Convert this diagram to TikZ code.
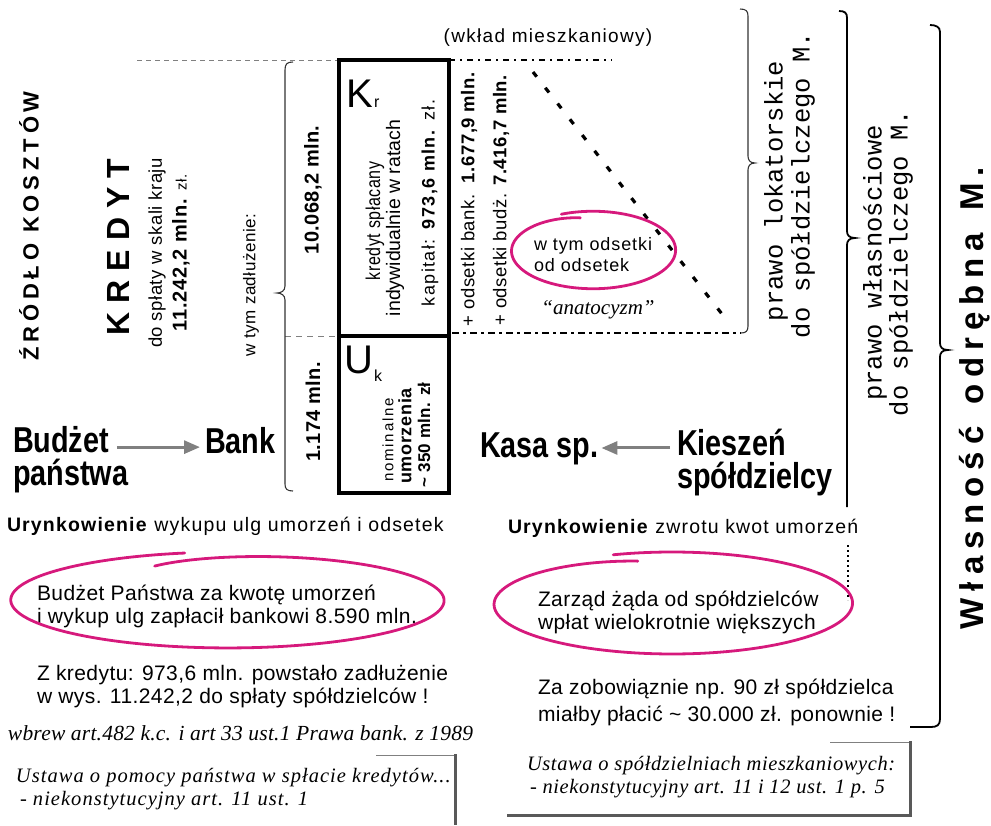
\documentclass[tikz,border=0pt]{standalone}
\usepackage{fontspec}
\setmainfont{Liberation Sans}
\newfontfamily\narrowsans[FakeStretch=0.8]{Liberation Sans}
\newfontfamily\monofam{Liberation Mono}
\newfontfamily\seriffam{Liberation Serif}
\usetikzlibrary{arrows.meta}
\definecolor{mag}{RGB}{214,25,124}
\definecolor{arrowgrey}{RGB}{128,128,128}
\newcommand{\fsz}[1]{\fontsize{#1}{#1}\selectfont}
\newcommand{\ls}[1]{\addfontfeature{LetterSpace=#1}}
\newcommand{\handloop}[8]{\draw[magline] plot[variable=\t,domain=0:#6,samples=180,smooth] ({#1+#3*(1.02-(1.02-#8)*(\t/#6)^10)*cos((#5)+(#7)*\t)},{#2-#4*(1.02-(1.02-#8)*(\t/#6)^10)*sin((#5)+(#7)*\t)});}
\begin{document}
\begin{tikzpicture}[x=1pt,y=-1pt,
  every node/.style={inner sep=0pt,outer sep=0pt},
  rot/.style={rotate=90,anchor=center},
  txt/.style={anchor=base west},
  magline/.style={draw=mag,line width=2.8pt,line cap=round},
  greyarrow/.style={draw=arrowgrey,line width=3pt,-{Triangle[length=16pt,width=13pt]}},
  bracethin/.style={draw=black!80,line width=1.1pt},
  bracethick/.style={draw=black,line width=1.8pt},
  bigword/.style={anchor=base west,font=\narrowsans\bfseries\fsz{36}},
  secondline/.style={text height=18pt},
  boxpart/.style={draw,line width=4pt,anchor=north west,minimum width=110pt}]
\useasboundingbox (0,0) rectangle (991,825);

% left column
\node[rot,font=\bfseries\fsz{22}\ls{22}] (zrodlo) at (29,226) {ŹRÓDŁO KOSZTÓW};
\node[rot,font=\bfseries\fsz{32}\ls{28}] (kredyt) at (118,247) {KREDYT};
\node[rot,font=\fsz{18.5}\ls{3}] (dosplaty) at (157,253) {do spłaty w skali kraju};
\node[rot,font=\fsz{20}\ls{4}] (kwota) at (181,253) {\bfseries 11.242,2 mln. \mdseries\fsz{15}zł.};
\node[rot,font=\fsz{17}\ls{3}] (wtym) at (251,285) {w tym zadłużenie:};
\node[rot,font=\bfseries\fsz{20}\ls{2}] (k10068) at (313,190) {10.068,2 mln.};
\node[rot,font=\bfseries\fsz{20}\ls{2}] (k1174) at (313,412) {1.174 mln.};

% dashed guide lines
\draw[gray,line width=0.8pt,dash pattern=on 5pt off 4pt] (137,60) -- (339,60);
\draw[black,line width=1.3pt,dash pattern=on 6pt off 5pt on 2pt off 5pt] (449,60) -- (612,60);
\draw[gray,line width=0.9pt,dash pattern=on 6pt off 5pt] (285,336) -- (339,336);
\draw[black,line width=2pt,dash pattern=on 7pt off 4pt on 3pt off 4pt] (452,333) -- (741,333);
\draw[black,line width=3.2pt,dash pattern=on 6pt off 14pt] (533,72) -- (729,323);

% box
\node[boxpart,minimum height=276pt] (krbox) at (339,60) {};
\node[boxpart,minimum height=157pt] (ukbox) at (339,336) {};
\node[txt,font=\fsz{40}] (K) at (346,107) {K};
\node[txt,font=\fsz{16}] (Kr) at (374,107) {r};
\node[rot,font=\narrowsans\fsz{20}\ls{3}] (kred1) at (375,221) {kredyt spłacany};
\node[rot,font=\fsz{19.5}] (kred2) at (395,218) {indywidualnie w ratach};
\node[rot,font=\fsz{18}\ls{8}] (kapital) at (430,203) {kapitał: \textbf{973,6 mln.} zł.};
\node[txt,font=\fsz{40}] (U) at (344,373) {U};
\node[txt,font=\fsz{16}] (Uk) at (374,381) {k};
\node[rot,font=\fsz{15}\ls{12}] (nomin) at (388,440) {nominalne};
\node[rot,font=\bfseries\fsz{18}\ls{4}] (umorz) at (405,436) {umorzenia};
\node[rot,font=\bfseries\fsz{17}\ls{2}] (u350) at (424,435) {\textasciitilde{} 350 mln. zł};

% triangle
\node[rot,font=\fsz{18.5}\ls{3}] (obank) at (469,199) {+ odsetki bank.\ \ \textbf{1.677,9 mln.}};
\node[rot,font=\fsz{18.5}\ls{3}] (obudz) at (501,200) {+ odsetki budż. \textbf{7.416,7 mln.}};
\node[font=\fsz{19}\ls{7}] (wklad) at (548,38) {(wkład mieszkaniowy)};
\node[txt,font=\fsz{18}\ls{5}] (ods1) at (534,250) {w tym odsetki};
\node[txt,font=\fsz{18}\ls{5}] (ods2) at (534,271) {od odsetek};
\node[font=\seriffam\itshape\fsz{21}] (anat) at (598,310) {“anatocyzm”};

% braces
\draw[bracethin] (293,62) .. controls (287,62) and (285,64) .. (285,70) -- (285,286) .. controls (285,291) and (281,293) .. (277,293) .. controls (281,293) and (285,295) .. (285,300) -- (285,484) .. controls (285,489) and (287,491) .. (293,491);
\draw[bracethin] (740,9) .. controls (746,9) and (748,11) .. (748,16) -- (748,156) .. controls (748,160) and (750,163) .. (755,163) .. controls (750,163) and (748,166) .. (748,170) -- (748,326) .. controls (748,331) and (746,333) .. (741,333);
\draw[bracethick] (839,11) .. controls (845,11) and (847,13) .. (847,18) -- (847,231) .. controls (847,235) and (849,238) .. (855,238) .. controls (849,238) and (847,241) .. (847,245) -- (847,507);
\draw[bracethick] (930,25) .. controls (936,25) and (940,27) .. (940,32) -- (940,343) .. controls (940,347) and (942,350) .. (948,350) .. controls (942,350) and (940,353) .. (940,357) -- (940,719) .. controls (940,725) and (937,727) .. (931,727) -- (910,727);

% right texts
\node[rot,font=\monofam\fsz{25.5}] (pl1) at (776,191) {prawo lokatorskie};
\node[rot,font=\monofam\fsz{25.5}] (pl2) at (803,185) {do spółdzielczego M.};
\node[rot,font=\monofam\fsz{25.5}] (pw1) at (875,263) {prawo własnościowe};
\node[rot,font=\monofam\fsz{25.5}] (pw2) at (901,263) {do spółdzielczego M.};
\node[rot,font=\bfseries\fsz{33}\ls{21}] (wlas) at (975,398) {Własność\hspace{6pt} odrębna\hspace{6pt} M.};

% flow
\node[bigword] (bud1) at (13,452) {Budżet};
\node[bigword,secondline] (bud2) at (13,485) {państwa};
\node[bigword] (bank) at (205,453) {Bank};
\node[bigword] (kasa) at (480,457) {Kasa sp.};
\node[bigword] (kie1) at (677,455) {Kieszeń};
\node[bigword,secondline] (kie2) at (677,488) {spółdzielcy};
\coordinate (bs) at ([xshift=8pt,yshift=-8pt]bud1.east);
\coordinate (bk) at ([xshift=-5pt]bank.west);
\draw[greyarrow] (bs) -- (bk |- bs);
\coordinate (ks) at ([xshift=-7pt,yshift=-6pt]kie1.west);
\coordinate (ke) at ([xshift=3pt]kasa.east);
\draw[greyarrow] (ks) -- (ke |- ks);

% bottom left
\node[txt,font=\fsz{19.5}\ls{6}] (ur1) at (7,531) {\textbf{Urynkowienie} wykupu ulg umorzeń i odsetek};
\node[txt,font=\fsz{21}\ls{2}] (bp1) at (37,600) {Budżet Państwa za kwotę umorzeń};
\node[txt,font=\fsz{21}\ls{2}] (bp2) at (37,623) {i wykup ulg zapłacił bankowi 8.590 mln.};
\node[txt,font=\fsz{21}\ls{2}] (zk1) at (37,680) {Z kredytu: 973,6 mln. powstało zadłużenie};
\node[txt,font=\fsz{21}\ls{2}] (zk2) at (37,703) {w wys. 11.242,2 do spłaty spółdzielców !};
\node[txt,font=\seriffam\itshape\fsz{21.5}\ls{1}] (wbrew) at (8,740) {wbrew art.482 k.c. i art 33 ust.1 Prawa bank. z 1989};
\node[txt,font=\seriffam\itshape\fsz{20.5}\ls{5}] (ust1a) at (16,782) {Ustawa o pomocy państwa w spłacie kredytów...};
\node[txt,font=\seriffam\itshape\fsz{20.5}\ls{5}] (ust1b) at (20,805) {- niekonstytucyjny art. 11 ust. 1};
\draw[gray,line width=0.8pt] (376,755) -- (455,755);
\draw[black!65,line width=3pt] (455,754) -- (455,825);

% bottom right
\node[txt,font=\fsz{19.5}\ls{6}] (ur2) at (508,533) {\textbf{Urynkowienie} zwrotu kwot umorzeń};
\node[txt,font=\fsz{21}\ls{2}] (zz1) at (538,606) {Zarząd żąda od spółdzielców};
\node[txt,font=\fsz{21}\ls{2}] (zz2) at (538,629) {wpłat wielokrotnie większych};
\node[txt,font=\fsz{21}\ls{2}] (za1) at (538,694) {Za zobowiąznie np. 90 zł spółdzielca};
\node[txt,font=\fsz{21}\ls{2}] (za2) at (538,721) {miałby płacić \textasciitilde{} 30.000 zł. ponownie !};
\node[txt,font=\seriffam\itshape\fsz{20.5}\ls{3}] (ust2a) at (527,770) {Ustawa o spółdzielniach mieszkaniowych:};
\node[txt,font=\seriffam\itshape\fsz{20.5}\ls{3}] (ust2b) at (530,793) {- niekonstytucyjny art. 11 i 12 ust. 1 p. 5};
\draw[gray,line width=0.8pt] (830,742) -- (910,742);
\draw[black!65,line width=3pt] (910,741) -- (910,815) -- (507,815);
\draw[black,line width=1.5pt,dash pattern=on 2pt off 3pt] (848,545) -- (848,600);

% hand-drawn loops
\handloop{593}{250}{81}{38}{112.5}{372}{-1}{0.86}
\handloop{228}{600}{213}{47}{101.5}{374}{1}{0.8}
\handloop{672}{603}{177}{50}{109}{366}{-1}{0.86}
\end{tikzpicture}
\end{document}
